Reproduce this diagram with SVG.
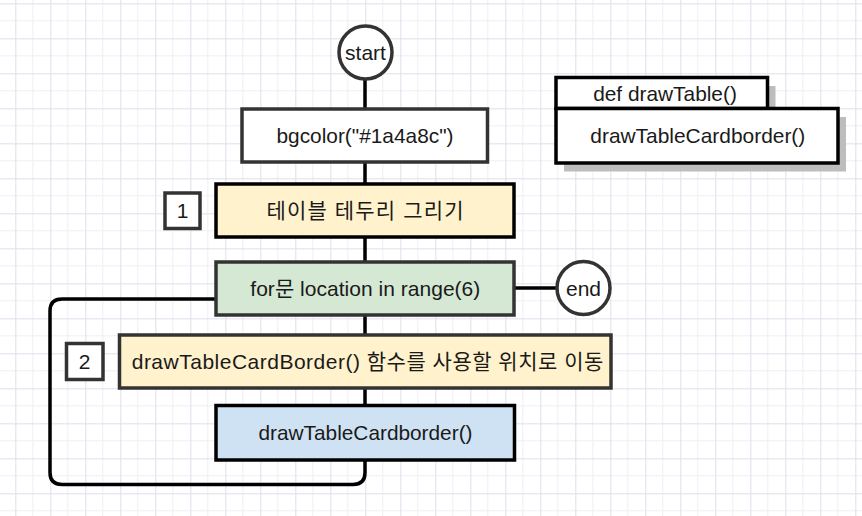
<svg xmlns="http://www.w3.org/2000/svg" width="862" height="516" viewBox="0 0 862 516">
<defs>
<pattern id="grid" patternUnits="userSpaceOnUse" x="15.3" y="3.3" width="35" height="35">
<path d="M17.5 0V35M0 17.5H35" stroke="#eeeef5" stroke-width="1" fill="none"/>
<path d="M0.5 0V35M0 0.5H35" stroke="#dfdfec" stroke-width="1" fill="none"/>
</pattern>
<style>
.t{font-family:"Liberation Sans","Noto Sans CJK KR",Arial,sans-serif;font-size:21px;fill:#1a1a1a;text-anchor:middle}
.k{font-family:"Liberation Sans","Noto Sans CJK KR",sans-serif;font-size:21px;fill:#1a1a1a;text-anchor:middle}
.b{stroke:#333;stroke-width:3.5}
.bk{stroke:#000;stroke-width:3.5}
.c{stroke:#000;stroke-width:3.5;fill:none}
.sh{fill:#bdbdbd}
</style>
</defs>
<rect width="862" height="516" fill="#fff"/>
<rect width="862" height="516" fill="url(#grid)"/>

<g id="connectors">
<path class="c" d="M365 79V109"/>
<path class="c" d="M365 162V184"/>
<path class="c" d="M365 237V262"/>
<path class="c" d="M365 315V335"/>
<path class="c" d="M365 388V405"/>
<path class="c" d="M514 288H557"/>
<path class="c" d="M365 460V472.5Q365 484.5 353 484.5H62Q50 484.5 50 472.5V311Q50 299 62 299H216"/>
</g>

<g id="start">
<circle class="b" cx="365.5" cy="52.5" r="26.5" fill="#fff"/>
<text class="t" x="365.5" y="60">start</text>
</g>

<g id="bgcolor">
<rect class="b" x="242" y="109" width="245.5" height="53" fill="#fff"/>
<text class="t" x="365" y="142.5" textLength="177" lengthAdjust="spacingAndGlyphs">bgcolor("#1a4a8c")</text>
</g>

<g id="label1">
<rect class="b" x="165" y="193" width="35" height="35.5" fill="#fff"/>
<text class="t" x="182.5" y="218">1</text>
</g>

<g id="tableBorder">
<rect class="bk" x="216" y="184" width="298" height="53" fill="#fff2cc"/>
<text class="k" x="365" y="217.5" textLength="197" lengthAdjust="spacing">테이블 테두리 그리기</text>
</g>

<g id="forLoop">
<rect class="b" x="216" y="262" width="298" height="53" fill="#d5e8d4"/>
<text class="k" x="365.3" y="295.5" textLength="230" lengthAdjust="spacing">for문 location in range(6)</text>
</g>

<g id="end">
<circle class="b" cx="583.5" cy="288" r="26.5" fill="#fff"/>
<text class="t" x="583.5" y="295.5">end</text>
</g>

<g id="label2">
<rect class="b" x="66.5" y="343.5" width="36.5" height="36" fill="#fff"/>
<text class="t" x="84.7" y="369">2</text>
</g>

<g id="moveStep">
<rect class="b" x="119.5" y="335" width="491.5" height="53" fill="#fff2cc"/>
<text class="k" x="367.5" y="368.5" textLength="471.6" lengthAdjust="spacing">drawTableCardBorder() 함수를 사용할 위치로 이동</text>
</g>

<g id="callBorder">
<rect class="bk" x="216" y="405.5" width="298.5" height="54.5" fill="#cfe2f3"/>
<text class="t" x="365.5" y="440" textLength="214" lengthAdjust="spacingAndGlyphs">drawTableCardborder()</text>
</g>

<g id="defDrawTable">
<rect class="sh" x="564" y="86" width="211.5" height="30"/>
<rect class="bk" x="556" y="77.5" width="211.5" height="31" fill="#fff"/>
<text class="t" x="665" y="101" textLength="143.7" lengthAdjust="spacingAndGlyphs">def drawTable()</text>
</g>

<g id="defBody">
<rect class="sh" x="564" y="117" width="282" height="54.5"/>
<rect class="bk" x="556" y="108.5" width="282" height="54.5" fill="#fff"/>
<text class="t" x="697.8" y="143.3" textLength="215" lengthAdjust="spacingAndGlyphs">drawTableCardborder()</text>
</g>
</svg>
